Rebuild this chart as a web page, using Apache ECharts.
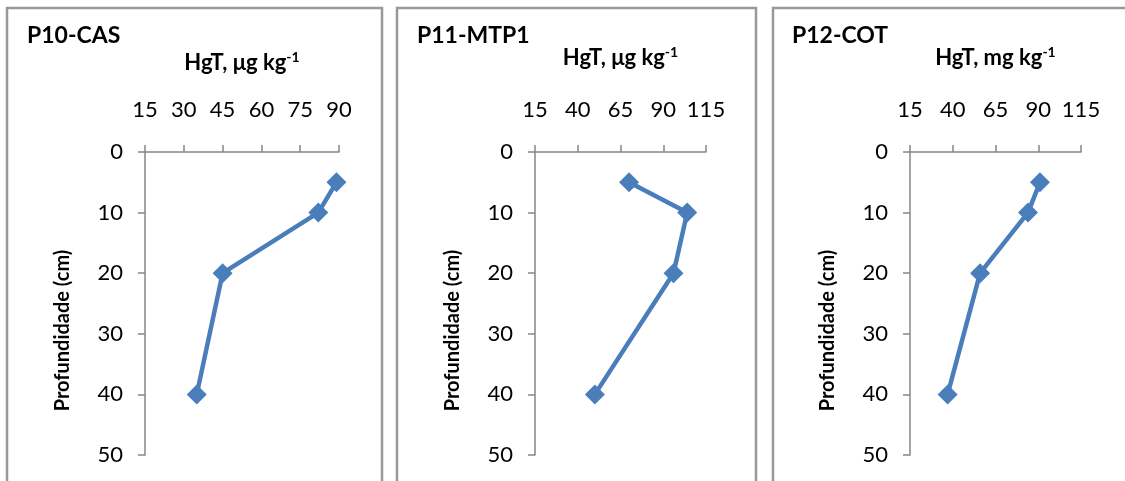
<!DOCTYPE html>
<html>
<head>
<meta charset="utf-8">
<script src="https://cdn.jsdelivr.net/npm/echarts@6/dist/echarts.min.js"></script>
<style>
  html, body { margin: 0; padding: 0; background: #fff; }
  #chart { width: 1125px; height: 481px; }
</style>
</head>
<body>
<div id="chart"></div>
<script>
// depth of each sample (cm)
const depths = [5, 10, 20, 40]

// HgT per profile
const p10Values = [89, 82, 45, 35]
const p11Values = [70, 104, 96, 50]
const p12Values = [91, 84, 56, 37]

const panelTitles = ['P10-CAS', 'P11-MTP1', 'P12-COT']
const unitLabels = ['μg kg', 'μg kg', 'mg kg']
const xRanges = [[15, 90, 15], [15, 115, 25], [15, 115, 25]]

const font = 'Lato, "Open Sans", sans-serif'
const lineColor = '#4a7ebb'
const axisColor = '#868686'

const grids = [
  { left: 145, width: 194, top: 152, bottom: 26 },
  { left: 535, width: 171, top: 152, bottom: 26 },
  { left: 910, width: 171, top: 152, bottom: 26 }
]

const allValues = [p10Values, p11Values, p12Values]

const chart = echarts.init(document.getElementById('chart'))

const option = {
  backgroundColor: '#fff',
  animation: false,
  textStyle: { fontFamily: font },
  graphic: [
    { type: 'rect', shape: { x: 7, y: 8, width: 375, height: 500 }, style: { fill: 'none', stroke: '#999', lineWidth: 2.5 } },
    { type: 'rect', shape: { x: 397, y: 8, width: 359, height: 500 }, style: { fill: 'none', stroke: '#999', lineWidth: 2.5 } },
    { type: 'rect', shape: { x: 773, y: 8, width: 400, height: 500 }, style: { fill: 'none', stroke: '#999', lineWidth: 2.5 } }
  ],
  title: panelTitles.map((t, i) => ({
    text: t,
    left: [22, 412, 787][i],
    top: 19,
    textStyle: { fontFamily: font, fontSize: 23, fontWeight: 'bold', color: '#000' }
  })),
  grid: grids,
  xAxis: grids.map((g, i) => ({
    type: 'value',
    gridIndex: i,
    position: 'top',
    min: xRanges[i][0],
    max: xRanges[i][1],
    interval: xRanges[i][2],
    name: '{b|HgT, ' + unitLabels[i] + '}{s|-1}',
    nameLocation: 'middle',
    nameGap: i === 0 ? 76 : 81,
    nameTextStyle: {
      rich: {
        b: { fontFamily: font, fontSize: 22, fontWeight: 'bold', color: '#000', lineHeight: 26 },
        s: { fontFamily: font, fontSize: 14, fontWeight: 'bold', color: '#000', verticalAlign: 'top', lineHeight: 26, padding: [0, 0, 10, 0] }
      }
    },
    axisLine: { onZero: false, lineStyle: { color: axisColor, width: 1.5 } },
    axisTick: { length: 7, lineStyle: { color: axisColor, width: 1.5 } },
    axisLabel: { fontFamily: font, fontSize: 22, color: '#000', margin: 31, hideOverlap: false },
    splitLine: { show: false }
  })),
  yAxis: grids.map((g, i) => ({
    type: 'value',
    gridIndex: i,
    inverse: true,
    min: 0,
    max: 50,
    interval: 10,
    name: 'Profundidade (cm)',
    nameLocation: 'middle',
    nameRotate: 90,
    nameGap: 72,
    nameTextStyle: { fontFamily: font, fontSize: 20, fontWeight: 'bold', color: '#000', padding: [0, 54, 0, 0] },
    axisLine: { onZero: false, lineStyle: { color: axisColor, width: 1.5 } },
    axisTick: { length: 7, lineStyle: { color: axisColor, width: 1.5 } },
    axisLabel: { fontFamily: font, fontSize: 22, color: '#000', margin: 22 },
    splitLine: { show: false }
  })),
  series: allValues.map((vals, i) => ({
    type: 'line',
    xAxisIndex: i,
    yAxisIndex: i,
    data: vals.map((v, k) => [v, depths[k]]),
    symbol: 'diamond',
    symbolSize: 20,
    lineStyle: { color: lineColor, width: 4.5 },
    itemStyle: { color: lineColor }
  }))
}

chart.setOption(option)
</script>
</body>
</html>
